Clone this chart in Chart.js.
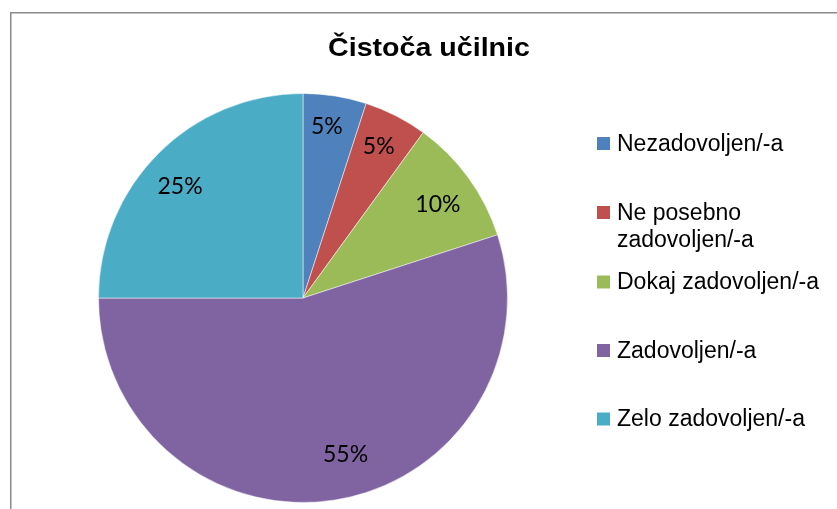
<!DOCTYPE html>
<html>
<head>
<meta charset="utf-8">
<script src="https://cdn.jsdelivr.net/npm/chart.js@4/dist/chart.umd.min.js"></script>
<style>
  html, body { margin: 0; padding: 0; background: #fff; }
  #wrap { position: relative; width: 837px; height: 509px; }
</style>
</head>
<body>
<div id="wrap"><canvas id="c" width="837" height="509"></canvas></div>
<script>
const titleText = "Čistoča učilnic";
const categories = ["Nezadovoljen/-a", "Ne posebno zadovoljen/-a", "Dokaj zadovoljen/-a", "Zadovoljen/-a", "Zelo zadovoljen/-a"];
const legendLines = [["Nezadovoljen/-a"], ["Ne posebno", "zadovoljen/-a"], ["Dokaj zadovoljen/-a"], ["Zadovoljen/-a"], ["Zelo zadovoljen/-a"]];
const values = [5, 5, 10, 55, 25];
const colors = ["#4F81BD", "#C0504D", "#9BBB59", "#8064A2", "#4BACC6"];

// label placement (layout only): angle shift in degrees and radius fraction
const labelAngleShift = [-1.1, -0.5, 1.1, -6.3, -2.55];
const labelRadiusFrac = [0.85, 0.83, 0.804, 0.789, 0.815];
// legend baselines (layout)
const legendBaselines = [150.5, 219.5, 289, 357.5, 426];

const decorPlugin = {
  id: 'decor',
  beforeDraw(chart) {
    const ctx = chart.ctx;
    ctx.save();
    ctx.strokeStyle = '#8a8a8a';
    ctx.lineWidth = 1.5;
    ctx.beginPath();
    ctx.moveTo(10.75, 509);
    ctx.lineTo(10.75, 12.75);
    ctx.lineTo(837, 12.75);
    ctx.stroke();
    ctx.restore();
  },
  afterDraw(chart) {
    const ctx = chart.ctx;
    // Title (slightly widened like the original)
    ctx.save();
    ctx.fillStyle = '#000';
    ctx.font = 'bold 26px "Liberation Sans", Arial, sans-serif';
    ctx.textAlign = 'center';
    ctx.textBaseline = 'alphabetic';
    ctx.translate(429, 56.3);
    ctx.scale(1.1, 1);
    ctx.fillText(titleText, 0, 0);
    ctx.restore();

    ctx.save();
    // Data labels
    const meta = chart.getDatasetMeta(0);
    ctx.fillStyle = '#000';
    ctx.font = '23px Lato, "Liberation Sans", sans-serif';
    ctx.textAlign = 'center';
    ctx.textBaseline = 'alphabetic';
    const total = values.reduce((a, b) => a + b, 0);
    meta.data.forEach((arc, i) => {
      const p = arc.getProps(['x', 'y', 'startAngle', 'endAngle', 'outerRadius'], true);
      const mid = (p.startAngle + p.endAngle) / 2 + labelAngleShift[i] * Math.PI / 180;
      const r = p.outerRadius * labelRadiusFrac[i];
      const x = p.x + Math.cos(mid) * r;
      const y = p.y + Math.sin(mid) * r;
      ctx.fillText(Math.round(values[i] / total * 100) + '%', x, y + 8.3);
    });

    // Legend
    ctx.font = '23px "Liberation Sans", Arial, sans-serif';
    ctx.textAlign = 'left';
    legendLines.forEach((lines, i) => {
      const b = legendBaselines[i];
      ctx.fillStyle = colors[i];
      ctx.fillRect(597, b - 13.5, 13, 13);
      ctx.fillStyle = '#000';
      lines.forEach((t, j) => {
        ctx.fillText(t, 617, b + j * 27);
      });
    });
    ctx.restore();
  }
};

new Chart(document.getElementById('c'), {
  type: 'pie',
  data: {
    labels: categories,
    datasets: [{
      data: values,
      backgroundColor: colors,
      borderColor: 'rgba(255,255,255,0.5)',
      borderWidth: 1
    }]
  },
  options: {
    responsive: false,
    animation: false,
    devicePixelRatio: 1,
    layout: { padding: { left: 98, right: 329, top: 93, bottom: 6 } },
    plugins: {
      legend: { display: false },
      title: { display: false },
      tooltip: { enabled: false }
    }
  },
  plugins: [decorPlugin]
});
</script>
</body>
</html>
